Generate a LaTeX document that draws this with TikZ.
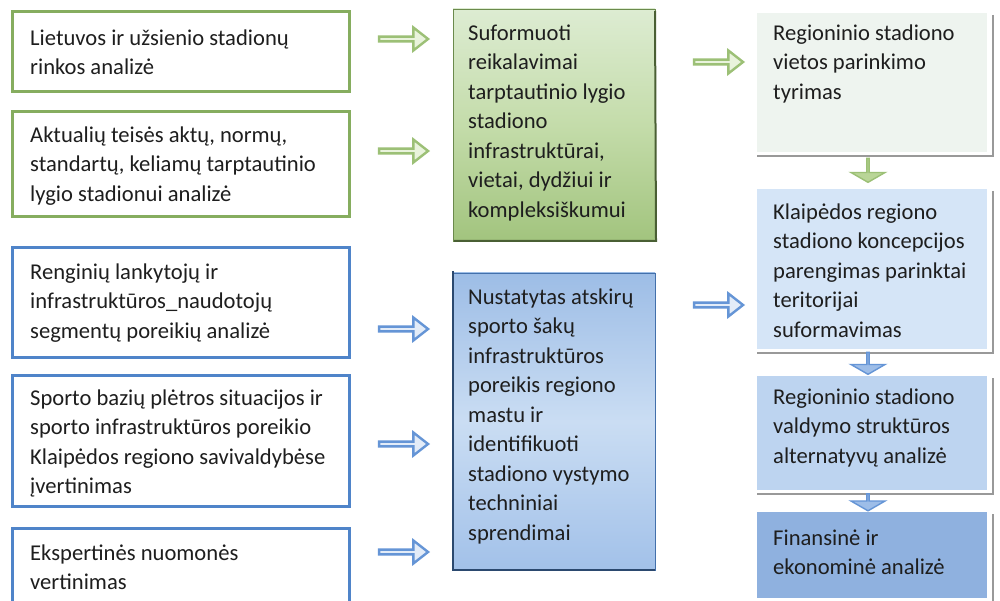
\documentclass[tikz,border=0pt]{standalone}
\usepackage{fontspec}
\setmainfont{Carlito}
\usetikzlibrary{shapes.arrows}
\definecolor{gline}{HTML}{86AD5F}
\definecolor{bline}{HTML}{4F84C9}
\definecolor{txtc}{HTML}{1E1E1E}
\definecolor{gtop}{HTML}{DDECD2}
\definecolor{gmid}{HTML}{C4DCAA}
\definecolor{gbot}{HTML}{A2C47E}
\definecolor{btop}{HTML}{9DBDE6}
\definecolor{bmid}{HTML}{CADDF3}
\definecolor{bbot}{HTML}{A2C1E9}
\definecolor{rone}{HTML}{EEF4EF}
\definecolor{rtwo}{HTML}{D5E5F7}
\definecolor{rthree}{HTML}{BDD4F0}
\definecolor{rfour}{HTML}{8FB1DF}
\definecolor{garrf}{HTML}{E9F3DC}
\definecolor{garrd}{HTML}{9CC076}
\definecolor{barrf}{HTML}{E3ECF8}
\definecolor{barrd}{HTML}{6595D6}
\definecolor{garrv}{HTML}{B9D597}
\definecolor{barrv}{HTML}{9DBDE8}
\newcommand\myfs{\fontsize{22.6}{29.5}\selectfont}
\tikzset{
  txt/.style={anchor=north west, inner sep=0pt, align=left, yshift=20.65pt, font=\myfs, text=txtc},
  box/.style={anchor=north west, inner sep=0pt, outer sep=0pt},
  gbox/.style={box, draw=gline, line width=3pt, fill=white},
  bbox/.style={box, draw=bline, line width=3pt, fill=white},
  rbox/.style={box, draw=none},
  harrow/.style={single arrow, minimum width=23pt, minimum height=49pt, single arrow head extend=4.5pt, single arrow tip angle=76, inner sep=0pt, line width=2.4pt},
  garrow/.style={harrow, draw=garrd, fill=garrf},
  barrow/.style={harrow, draw=barrd, fill=barrf},
  varrow/.style={single arrow, shape border rotate=270, minimum width=34pt, single arrow head extend=10pt, single arrow tip angle=120, inner sep=0pt, line width=1.4pt},
  varrowg/.style={varrow, minimum height=24pt, draw=garrd, fill=garrv},
  varrowb/.style={varrow, minimum height=22pt, draw=barrd, fill=barrv},
  shline/.style={draw=gray!80, line width=1.2pt}
}
\begin{document}
\begin{tikzpicture}[x=1pt,y=-1pt]
\clip (0,0) rectangle (1000,601);
\fill[white] (0,0) rectangle (1000,601);
% left boxes
\node[gbox, minimum width=337pt, minimum height=80pt] (b1) at (12,12) {};
\node[gbox, minimum width=337pt, minimum height=105pt] (b2) at (12,112) {};
\node[bbox, minimum width=337pt, minimum height=109pt] (b3) at (12,248) {};
\node[bbox, minimum width=337pt, minimum height=131pt] (b4) at (12,375) {};
\node[bbox, minimum width=337pt, minimum height=90pt] (b5) at (12,528) {};
\node[txt] (t1) at (30,45) {\strut Lietuvos ir užsienio stadionų\\rinkos analizė};
\node[txt] (t2) at (30,142) {\strut Aktualių teisės aktų, normų,\\standartų, keliamų tarptautinio\\lygio stadionui analizė};
\node[txt] (t3) at (30,279) {\strut Renginių lankytojų ir\\infrastruktūros\_naudotojų\\segmentų poreikių analizė};
\node[txt] (t4) at (30,405) {\strut Sporto bazių plėtros situacijos ir\\sporto infrastruktūros poreikio\\Klaipėdos regiono savivaldybėse\\įvertinimas};
\node[txt] (t5) at (30,560) {\strut Ekspertinės nuomonės\\vertinimas};
% middle boxes
\node[box, draw=gline!80!black, line width=0.8pt, top color=gtop, bottom color=gbot, middle color=gmid, minimum width=202pt, minimum height=232pt] (m1) at (453,9) {};
\draw[draw=gline!55!black, line width=2pt] ([xshift=1pt]m1.south west) -- ([xshift=1pt]m1.south east) -- ([yshift=-2pt]m1.north east);
\node[box, draw=bline!85!black, line width=0.8pt, top color=btop, bottom color=bbot, middle color=bmid, minimum width=202pt, minimum height=297pt] (m2) at (453,273) {};
\draw[draw=bline!55!black, line width=2pt] ([yshift=2pt]m2.north west) -- (m2.south west) -- (m2.south east);
\node[txt] (tm1) at (468,40) {\strut Suformuoti\\reikalavimai\\tarptautinio lygio\\stadiono\\infrastruktūrai,\\vietai, dydžiui ir\\kompleksiškumui};
\node[txt] (tm2) at (468,304) {\strut Nustatytas atskirų\\sporto šakų\\infrastruktūros\\poreikis regiono\\mastu ir\\identifikuoti\\stadiono vystymo\\techniniai\\sprendimai};
% right boxes
\node[rbox, fill=rone, minimum width=230pt, minimum height=139pt] (r1) at (757,13) {};
\node[rbox, fill=rtwo, minimum width=230pt, minimum height=160pt] (r2) at (757,189) {};
\node[rbox, fill=rthree, minimum width=230pt, minimum height=114pt] (r3) at (757,376) {};
\node[rbox, fill=rfour, minimum width=230pt, minimum height=86pt] (r4) at (757,512) {};
\foreach \r in {r1,r2,r3,r4}{
  \draw[shline] ([xshift=6pt,yshift=-2pt]\r.north east) -- ([xshift=6pt,yshift=-4pt]\r.south east) -- ([yshift=-4pt]\r.south west);
}
\node[txt] (tr1) at (773,40) {\strut Regioninio stadiono\\vietos parinkimo\\tyrimas};
\node[txt] (tr2) at (773,219) {\strut Klaipėdos regiono\\stadiono koncepcijos\\parengimas parinktai\\teritorijai\\suformavimas};
\node[txt] (tr3) at (773,404) {\strut Regioninio stadiono\\valdymo struktūros\\alternatyvų analizė};
\node[txt] (tr4) at (773,545) {\strut Finansinė ir\\ekonominė analizė};
% arrows
\node[garrow] (a1) at (402,39) {};
\node[garrow] (a2) at (402,151) {};
\node[barrow] (a3) at (402,329) {};
\node[barrow] (a4) at (402,444) {};
\node[barrow] (a5) at (402,552) {};
\node[garrow] (a6) at (717,62) {};
\node[barrow] (a7) at (717,305) {};
\node[varrowg] (d1) at (868,170) {};
\node[varrowb] (d2) at (868,363) {};
\node[varrowb, minimum height=17pt] (d3) at (868,502) {};
\end{tikzpicture}
\end{document}
